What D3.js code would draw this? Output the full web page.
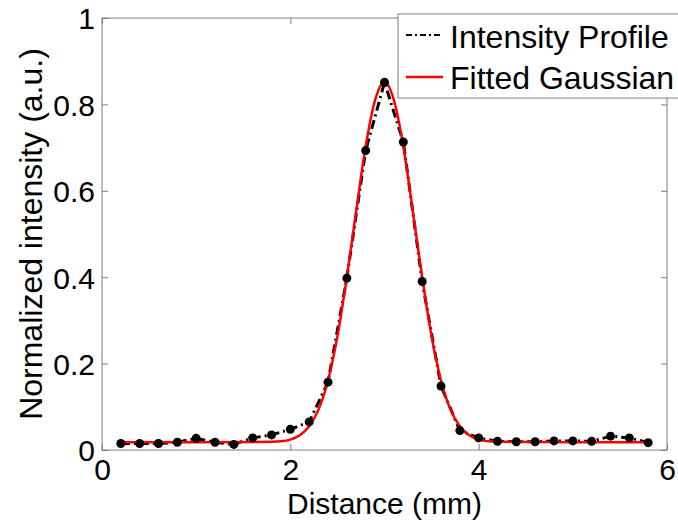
<!DOCTYPE html>
<html>
<head>
<meta charset="utf-8">
<script src="https://cdn.jsdelivr.net/npm/d3@7"></script>
<style>
  body { margin: 0; background: #fff; }
  text { font-family: "Liberation Sans", Arial, sans-serif; }
</style>
</head>
<body>
<div id="chart"></div>
<script>
// Measured intensity profile (distance in mm, normalized intensity)
var distance = [0.2, 0.4, 0.6, 0.8, 1.0, 1.2, 1.4, 1.6, 1.8, 2.0, 2.2, 2.4, 2.6, 2.8, 3.0,
  3.2, 3.4, 3.6, 3.8, 4.0, 4.2, 4.4, 4.6, 4.8, 5.0, 5.2, 5.4, 5.6, 5.8];
var intensity = [0.015, 0.015, 0.015, 0.018, 0.027, 0.018, 0.013, 0.028, 0.035, 0.048, 0.065,
  0.157, 0.398, 0.693, 0.851, 0.713, 0.39, 0.148, 0.045, 0.028, 0.02, 0.019, 0.019, 0.021,
  0.021, 0.02, 0.032, 0.028, 0.017];

// Fitted Gaussian
var fitX = [0.2, 1.0, 1.8, 1.9, 2.0, 2.1, 2.2, 2.3, 2.4, 2.5, 2.6, 2.7, 2.8, 2.9, 3.0,
  3.1, 3.2, 3.3, 3.4, 3.5, 3.6, 3.7, 3.8, 3.9, 4.0, 4.1, 4.2, 5.0, 5.8];
var fitY = [0.018, 0.018, 0.019, 0.02, 0.024, 0.034, 0.055, 0.094, 0.161, 0.263, 0.4, 0.554,
  0.703, 0.81, 0.852, 0.81, 0.703, 0.554, 0.4, 0.263, 0.161, 0.094, 0.055, 0.034, 0.024,
  0.02, 0.019, 0.018, 0.018];

var xTicks = [0, 2, 4, 6];
var yTicks = [0, 0.2, 0.4, 0.6, 0.8, 1];
var legendLabels = ["Intensity Profile", "Fitted Gaussian"];

var svgWidth = 678;
var svgHeight = 521;
var margin = { top: 18, right: 11, bottom: 71, left: 102 };
var chartWidth = svgWidth - margin.left - margin.right;
var chartHeight = svgHeight - margin.top - margin.bottom;

var svg = d3.select("#chart")
  .append("svg")
  .attr("width", svgWidth)
  .attr("height", svgHeight);

var chartGroup = svg.append("g")
  .attr("transform", `translate(${margin.left}, ${margin.top})`);

var xScale = d3.scaleLinear().domain([0, 6]).range([0, chartWidth]);
var yScale = d3.scaleLinear().domain([0, 1]).range([chartHeight, 0]);

// Axes box
chartGroup.append("rect")
  .attr("width", chartWidth)
  .attr("height", chartHeight)
  .attr("fill", "none")
  .attr("stroke", "#7f7f7f")
  .attr("stroke-width", 1);

// Inward ticks (bottom/top and left/right)
var bottomAxis = d3.axisBottom(xScale).tickValues(xTicks).tickSizeInner(-6).tickSizeOuter(0)
  .tickPadding(9).tickFormat(d3.format("d"));
var leftAxis = d3.axisLeft(yScale).tickValues(yTicks).tickSizeInner(-6).tickSizeOuter(0)
  .tickPadding(7).tickFormat(d => d === 0 || d === 1 ? d3.format("d")(d) : d3.format(".1f")(d));
var topAxis = d3.axisTop(xScale).tickValues(xTicks).tickSizeInner(-6).tickSizeOuter(0).tickFormat("");
var rightAxis = d3.axisRight(yScale).tickValues(yTicks).tickSizeInner(-6).tickSizeOuter(0).tickFormat("");

var xAxisG = chartGroup.append("g")
  .attr("transform", `translate(0, ${chartHeight})`)
  .call(bottomAxis);
var yAxisG = chartGroup.append("g").call(leftAxis);
var topG = chartGroup.append("g").call(topAxis);
var rightG = chartGroup.append("g").attr("transform", `translate(${chartWidth}, 0)`).call(rightAxis);

[xAxisG, yAxisG, topG, rightG].forEach(function(g) {
  g.select(".domain").remove();
  g.selectAll(".tick line").attr("stroke", "#7f7f7f");
  g.selectAll("text")
    .attr("fill", "#000")
    .attr("font-size", 30)
    .attr("font-family", "Liberation Sans, Arial, sans-serif");
});
xAxisG.selectAll("text").attr("dy", "0.71em");
yAxisG.selectAll("text").attr("dy", "0.36em");

// Data line (dash-dot)
var profileLine = d3.line()
  .x((d, i) => xScale(distance[i]))
  .y(d => yScale(d));

chartGroup.append("path")
  .datum(intensity)
  .attr("d", profileLine)
  .attr("fill", "none")
  .attr("stroke", "#000")
  .attr("stroke-width", 3)
  .attr("stroke-dasharray", "9,4,2,4");

// Fitted Gaussian
var fitLine = d3.line()
  .x((d, i) => xScale(fitX[i]))
  .y(d => yScale(d))
  .curve(d3.curveMonotoneX);

chartGroup.append("path")
  .datum(fitY)
  .attr("d", fitLine)
  .attr("fill", "none")
  .attr("stroke", "#ff0000")
  .attr("stroke-width", 2.5);

// Markers
chartGroup.selectAll("circle.pt")
  .data(intensity)
  .enter()
  .append("circle")
  .attr("class", "pt")
  .attr("cx", (d, i) => xScale(distance[i]))
  .attr("cy", d => yScale(d))
  .attr("r", 4.5)
  .attr("fill", "#000");

// Legend
var legend = svg.append("g").attr("transform", "translate(398, 14)");
legend.append("rect")
  .attr("width", 300)
  .attr("height", 84)
  .attr("fill", "#fff")
  .attr("stroke", "#7f7f7f")
  .attr("stroke-width", 1);

legend.append("line")
  .attr("x1", 8).attr("x2", 45).attr("y1", 21).attr("y2", 21)
  .attr("stroke", "#000").attr("stroke-width", 2)
  .attr("stroke-dasharray", "6,3,2,3");
legend.append("line")
  .attr("x1", 8).attr("x2", 45).attr("y1", 63).attr("y2", 63)
  .attr("stroke", "#ff0000").attr("stroke-width", 2.5);

legend.selectAll("text.lab")
  .data(legendLabels)
  .enter()
  .append("text")
  .attr("class", "lab")
  .attr("x", 52)
  .attr("y", (d, i) => 34 + i * 41)
  .attr("font-size", 32)
  .text(d => d);

// Axis titles
svg.append("text")
  .attr("x", margin.left + chartWidth / 2)
  .attr("y", 514)
  .attr("text-anchor", "middle")
  .attr("font-size", 30)
  .text("Distance (mm)");

svg.append("text")
  .attr("transform", `translate(42, ${margin.top + chartHeight / 2}) rotate(-90)`)
  .attr("text-anchor", "middle")
  .attr("font-size", 32)
  .text("Normalized intensity (a.u.)");
</script>
</body>
</html>
